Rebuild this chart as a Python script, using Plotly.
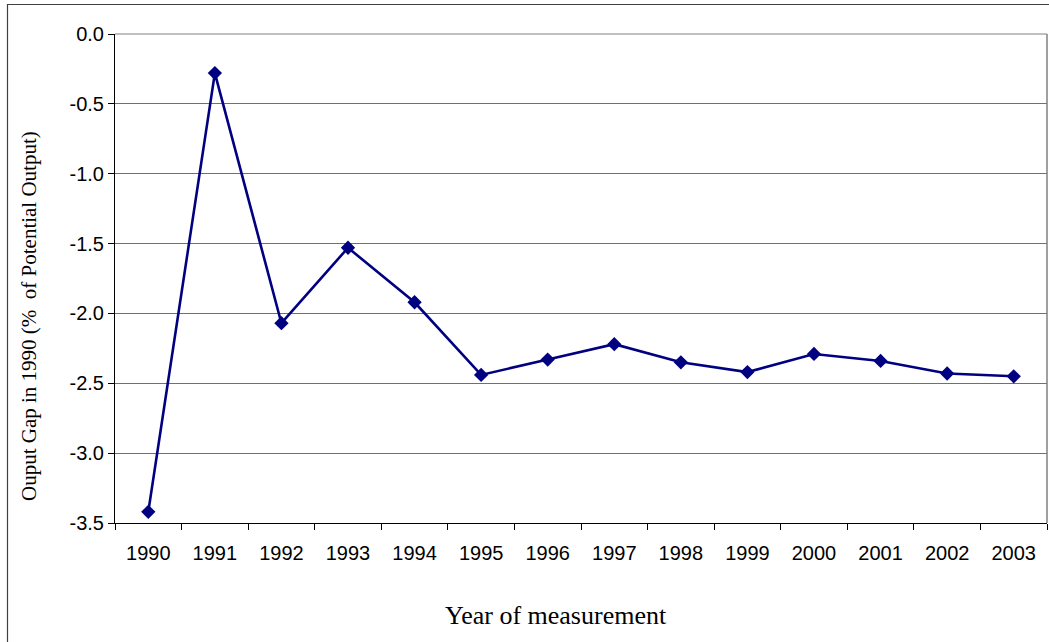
import plotly.graph_objects as go

years = ["1990", "1991", "1992", "1993", "1994", "1995", "1996",
         "1997", "1998", "1999", "2000", "2001", "2002", "2003"]
output_gap = [-3.42, -0.28, -2.07, -1.53, -1.92, -2.44, -2.33,
              -2.22, -2.35, -2.42, -2.29, -2.34, -2.43, -2.45]
y_ticks = [0.0, -0.5, -1.0, -1.5, -2.0, -2.5, -3.0, -3.5]
y_ticktext = [f"{v:.1f}" for v in y_ticks]

W, H = 1049, 642
L, R, T, B = 115, 2, 34, 119
pw, ph = W - L - R, H - T - B

def px(x):
    return (x - L) / pw

def py(y):
    return (H - B - y) / ph

fig = go.Figure()
fig.add_trace(go.Scatter(
    x=years, y=output_gap, mode="lines+markers",
    line=dict(color="#000080", width=2.6),
    marker=dict(symbol="diamond", size=11, color="#000080"),
    showlegend=False, cliponaxis=False,
))

fig.update_layout(
    width=W, height=H,
    margin=dict(l=L, r=R, t=T, b=B),
    paper_bgcolor="white", plot_bgcolor="white",
    font=dict(family="Liberation Sans, Arial", size=20, color="black"),
    xaxis=dict(
        type="category", range=[-0.5, len(years) - 0.5],
        tickson="boundaries", ticks="outside", ticklen=6,
        tickcolor="black", showline=True, linecolor="black", linewidth=1,
        showgrid=False, mirror=False, tickfont=dict(size=20),
        ticklabelstandoff=12,
    ),
    yaxis=dict(
        range=[-3.5, 0], tickvals=y_ticks, ticktext=y_ticktext,
        ticks="outside", ticklen=6, tickcolor="black",
        showline=True, linecolor="black", linewidth=1,
        showgrid=True, gridcolor="#707070", gridwidth=1,
        zeroline=False, tickfont=dict(size=20),
    ),
    shapes=[
        dict(type="rect", xref="paper", yref="paper",
             x0=px(7.5), x1=px(1060), y0=py(660), y1=py(4.5),
             line=dict(color="#404040", width=1.2), fillcolor="rgba(0,0,0,0)",
             layer="below"),
        dict(type="line", xref="paper", yref="paper", x0=0, x1=1, y0=1, y1=1,
             line=dict(color="#808080", width=1)),
        dict(type="line", xref="paper", yref="paper", x0=1, x1=1, y0=0, y1=1,
             line=dict(color="#808080", width=1.5)),
    ],
    annotations=[
        dict(text="Ouput Gap in 1990 (%  of Potential Output)", textangle=-90,
             xref="paper", yref="paper", x=px(29), y=py(316),
             xanchor="center", yanchor="middle", showarrow=False,
             font=dict(family="Liberation Serif, Times New Roman", size=21)),
        dict(text="Year of measurement",
             xref="paper", yref="paper", x=px(556), y=py(615),
             xanchor="center", yanchor="middle", showarrow=False,
             font=dict(family="Liberation Serif, Times New Roman", size=26)),
    ],
)

fig.write_html("out.html", config={"displayModeBar": False},
               post_script="document.body.style.margin='0';document.body.style.overflow='hidden';")
